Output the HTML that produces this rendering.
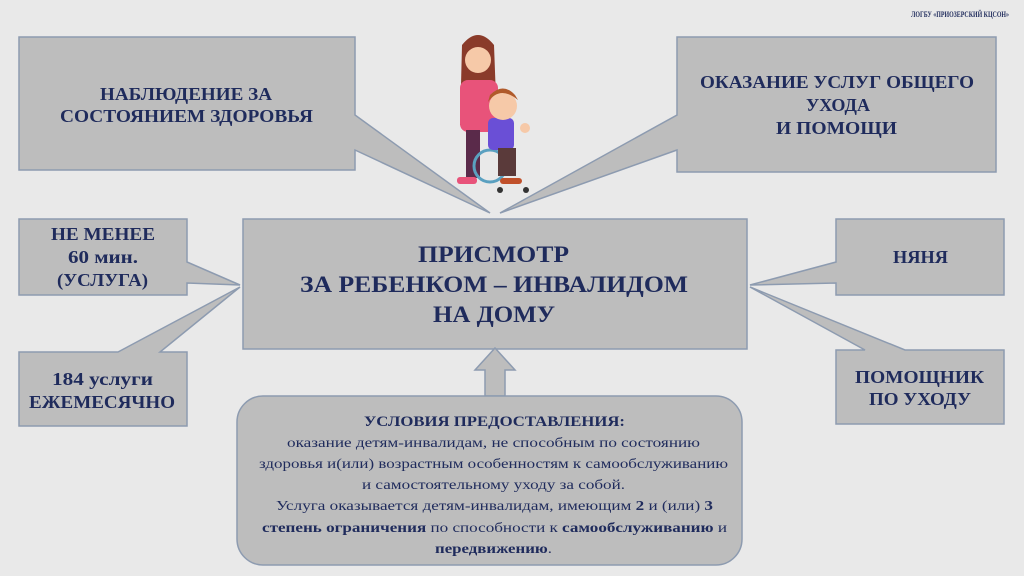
<!DOCTYPE html>
<html><head><meta charset="utf-8"><style>
html,body{margin:0;padding:0;background:#e9e9e9;}
svg{display:block;}
text{font-family:"Liberation Serif",serif;fill:#1f2b5c;font-weight:bold;}
.n{font-weight:normal;}
</style></head><body>
<svg width="1024" height="576" viewBox="0 0 1024 576" xmlns="http://www.w3.org/2000/svg">
<rect width="1024" height="576" fill="#e9e9e9"/>
<g fill="#bdbdbd" stroke="#8d9bb0" stroke-width="1.5" stroke-linejoin="miter">
<polygon points="19,37 355,37 355,115 490,213 355,150 355,170 19,170"/>
<polygon points="677,37 996,37 996,172 677,172 677,150 500,213 677,115"/>
<rect x="243" y="219" width="504" height="130"/>
<polygon points="19,219 187,219 187,262 240,285 187,283 187,295 19,295"/>
<polygon points="19,352 118,352 240,287 160,352 187,352 187,426 19,426"/>
<polygon points="836,219 1004,219 1004,295 836,295 836,283 750,285 836,262"/>
<polygon points="836,350 865,350 750,287 905,350 1004,350 1004,424 836,424"/>
<polygon points="495,348 515,370 505,370 505,396 485,396 485,370 475,370"/>
<rect x="237" y="396" width="505" height="169" rx="26" ry="26"/>
</g>
<!-- illustration -->
<g>
<path d="M462,45 Q478,25 494,45 L497,125 L460,125 Z" fill="#8a3b2a"/>
<circle cx="478" cy="60" r="13" fill="#f6c9a8"/>
<path d="M465,55 Q478,38 492,55 L492,48 Q478,32 464,48Z" fill="#8a3b2a"/>
<rect x="460" y="80" width="38" height="52" rx="8" fill="#e8537a"/>
<rect x="466" y="130" width="14" height="48" fill="#5a2a4a"/>
<rect x="457" y="177" width="20" height="7" rx="3" fill="#e8537a"/>
<circle cx="490" cy="166" r="16" fill="none" stroke="#5aa0c0" stroke-width="3"/>
<rect x="488" y="118" width="26" height="32" rx="5" fill="#6a4fd6"/>
<circle cx="503" cy="106" r="14" fill="#f6c9a8"/>
<path d="M488,102 Q500,85 518,100 L515,95 Q503,82 490,95Z" fill="#b05a2a"/>
<rect x="498" y="148" width="18" height="28" fill="#5a3a3a"/>
<rect x="500" y="178" width="22" height="6" rx="3" fill="#c0502a"/>
<circle cx="500" cy="190" r="3" fill="#333"/><circle cx="526" cy="190" r="3" fill="#333"/>
<circle cx="525" cy="128" r="5" fill="#f6c9a8"/>
</g>
<text x="960" y="17" font-size="8" text-anchor="middle" textLength="98" lengthAdjust="spacingAndGlyphs">ЛОГБУ «ПРИОЗЕРСКИЙ КЦСОН»</text>
<g font-size="18">
<text x="100" y="100" textLength="172" lengthAdjust="spacingAndGlyphs">НАБЛЮДЕНИЕ ЗА</text>
<text x="60" y="122" textLength="253" lengthAdjust="spacingAndGlyphs">СОСТОЯНИЕМ ЗДОРОВЬЯ</text>
<text x="700" y="88" textLength="274" lengthAdjust="spacingAndGlyphs">ОКАЗАНИЕ УСЛУГ ОБЩЕГО</text>
<text x="806" y="111" textLength="64" lengthAdjust="spacingAndGlyphs">УХОДА</text>
<text x="776" y="134" textLength="121" lengthAdjust="spacingAndGlyphs">И ПОМОЩИ</text>
<text x="51" y="240" textLength="104" lengthAdjust="spacingAndGlyphs">НЕ МЕНЕЕ</text>
<text x="68" y="263" textLength="70" lengthAdjust="spacingAndGlyphs">60 мин.</text>
<text x="57" y="286" textLength="91" lengthAdjust="spacingAndGlyphs">(УСЛУГА)</text>
<text x="52" y="385" textLength="101" lengthAdjust="spacingAndGlyphs">184 услуги</text>
<text x="29" y="408" textLength="146" lengthAdjust="spacingAndGlyphs">ЕЖЕМЕСЯЧНО</text>
<text x="893" y="263" textLength="55" lengthAdjust="spacingAndGlyphs">НЯНЯ</text>
<text x="855" y="383" textLength="129" lengthAdjust="spacingAndGlyphs">ПОМОЩНИК</text>
<text x="869" y="405" textLength="102" lengthAdjust="spacingAndGlyphs">ПО УХОДУ</text>
</g>
<g font-size="23">
<text x="418" y="262" textLength="151" lengthAdjust="spacingAndGlyphs">ПРИСМОТР</text>
<text x="300" y="292" textLength="388" lengthAdjust="spacingAndGlyphs">ЗА РЕБЕНКОМ – ИНВАЛИДОМ</text>
<text x="433" y="322" textLength="122" lengthAdjust="spacingAndGlyphs">НА ДОМУ</text>
</g>
<text x="364" y="426" font-size="15" textLength="261" lengthAdjust="spacingAndGlyphs">УСЛОВИЯ ПРЕДОСТАВЛЕНИЯ:</text>
<g font-size="14">
<text class="n" x="287" y="447" textLength="413" lengthAdjust="spacingAndGlyphs">оказание детям-инвалидам, не способным по состоянию</text>
<text class="n" x="259" y="468" textLength="469" lengthAdjust="spacingAndGlyphs">здоровья и(или) возрастным особенностям к самообслуживанию</text>
<text class="n" x="362" y="489" textLength="263" lengthAdjust="spacingAndGlyphs">и самостоятельному уходу за собой.</text>
<text class="n" x="276" y="510" textLength="437" lengthAdjust="spacingAndGlyphs">Услуга оказывается детям-инвалидам, имеющим <tspan font-weight="bold">2</tspan> и (или) <tspan font-weight="bold">3</tspan></text>
<text class="n" x="262" y="532" textLength="465" lengthAdjust="spacingAndGlyphs"><tspan font-weight="bold">степень ограничения</tspan> по способности к <tspan font-weight="bold">самообслуживанию</tspan> и</text>
<text class="n" x="435" y="553" textLength="117" lengthAdjust="spacingAndGlyphs"><tspan font-weight="bold">передвижению</tspan>.</text>
</g>
</svg>
</body></html>
